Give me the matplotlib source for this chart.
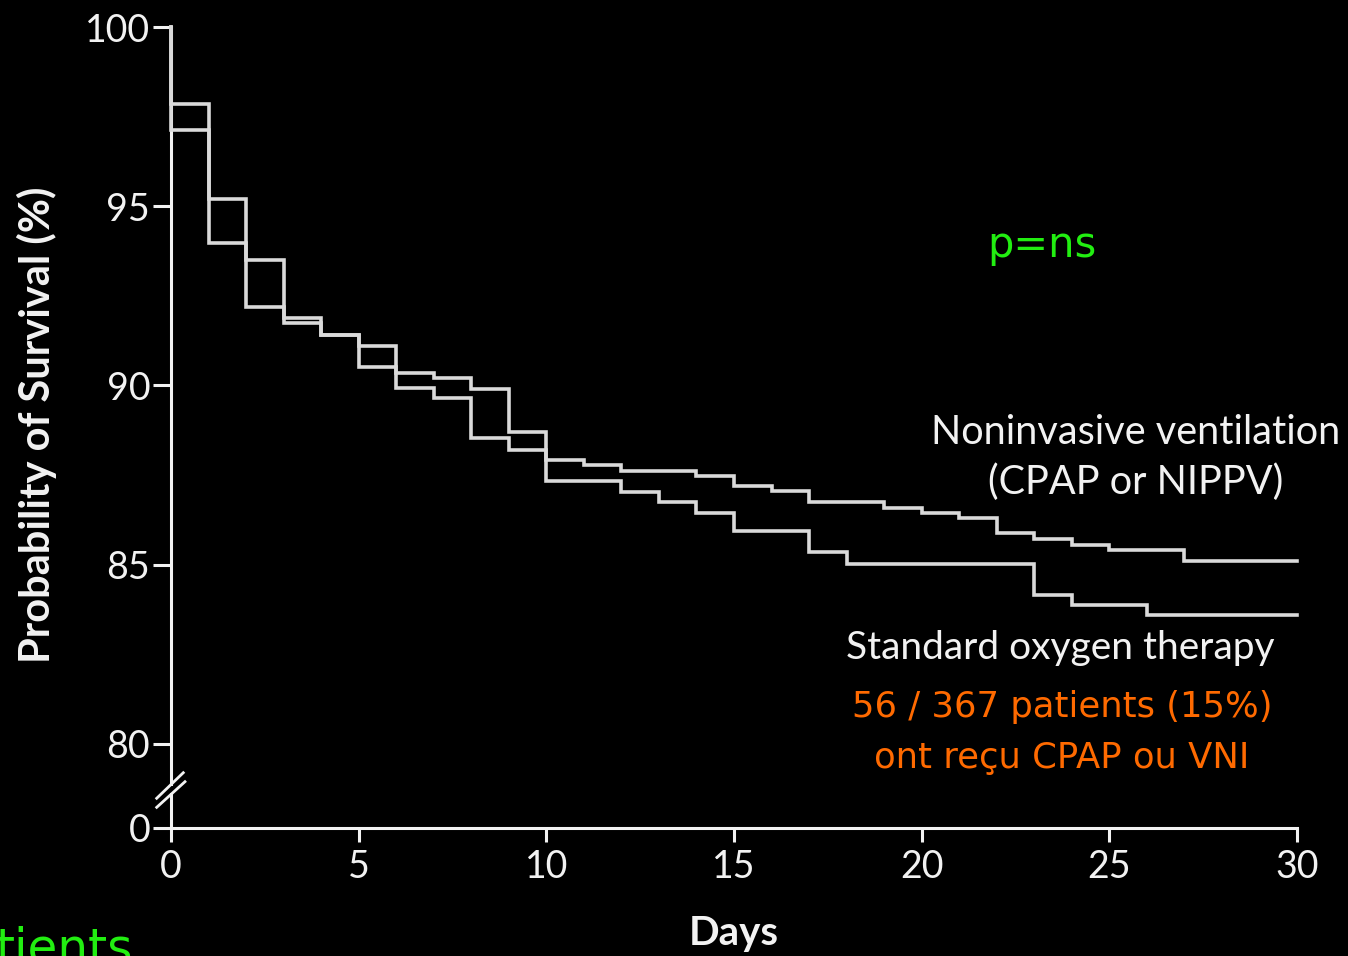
import numpy as np
import matplotlib
matplotlib.use("Agg")
import matplotlib.pyplot as plt

# Kaplan-Meier survival (%) per day; first entry is the value at day 0 before any event
days = list(range(0, 31))
niv_survival = [100, 97.85, 95.2, 93.5, 91.87, 91.4, 91.1, 90.35, 90.2, 89.89, 88.7,
                87.92, 87.78, 87.62, 87.62, 87.47, 87.19, 87.05, 86.75, 86.75, 86.59,
                86.44, 86.29, 85.87, 85.70, 85.54, 85.40, 85.40, 85.10, 85.10, 85.10, 85.10]
std_survival = [100, 97.13, 93.97, 92.2, 91.73, 91.4, 90.52, 89.92, 89.64, 88.52, 88.19,
                87.34, 87.34, 87.03, 86.75, 86.43, 85.93, 85.93, 85.36, 85.03, 85.03,
                85.03, 85.03, 85.03, 84.15, 83.87, 83.87, 83.59, 83.59, 83.59, 83.59, 83.59]

x_ticks = [0, 5, 10, 15, 20, 25, 30]
y_ticks = [0, 80, 85, 90, 95, 100]

BG = "black"
AXIS_COLOR = "#f2f2f2"
CURVE_COLOR = "#dadada"
GREEN = "#22ee11"
ORANGE = "#ff6a00"
MAIN_FONT = ["Lato", "DejaVu Sans"]
NOTE_FONT = ["DejaVu Sans"]

# broken y axis: 0..80 squeezed into a short stretch below 80
BREAK_SPAN = 2.35


def fwd(y):
    y = np.asarray(y, dtype=float)
    return np.where(y >= 80, y, 80 - BREAK_SPAN + y * BREAK_SPAN / 80)


def inv(v):
    v = np.asarray(v, dtype=float)
    return np.where(v >= 80, v, (v - (80 - BREAK_SPAN)) * 80 / BREAK_SPAN)


W, H = 1348, 956
fig = plt.figure(figsize=(W / 100, H / 100), dpi=100, facecolor=BG)
ax = fig.add_axes([171 / W, 1 - 828 / H, 1126 / W, 801 / H], facecolor=BG)
ax.set_yscale("function", functions=(fwd, inv))
ax.set_xlim(0, 30)
ax.set_ylim(0, 100)

t = np.r_[0, days]
for surv in (niv_survival, std_survival):
    ax.step(t, surv, where="post", color=CURVE_COLOR, lw=2.6,
            solid_joinstyle="miter", clip_on=False, zorder=3)

for side in ("top", "right"):
    ax.spines[side].set_visible(False)
for side in ("left", "bottom"):
    ax.spines[side].set_color(AXIS_COLOR)
    ax.spines[side].set_linewidth(2.2)

ax.set_xticks(x_ticks)
ax.set_yticks(y_ticks)
ax.set_yticklabels([str(v) for v in y_ticks])
ax.yaxis.set_minor_locator(matplotlib.ticker.NullLocator())
ax.tick_params(axis="x", direction="out", length=10, width=2.2, pad=5,
               colors=AXIS_COLOR, labelsize=27)
ax.tick_params(axis="y", direction="out", length=13, width=2.2, pad=2,
               colors=AXIS_COLOR, labelsize=27)
for lab in ax.get_xticklabels() + ax.get_yticklabels():
    lab.set_fontfamily(MAIN_FONT)

ax.set_xlabel("Days", fontsize=29, fontweight="bold", color=AXIS_COLOR,
              family=MAIN_FONT, labelpad=22)
fig.text(37 / W, 1 - 425 / H, "Probability of Survival (%)", rotation=90,
         ha="center", va="center", fontsize=30, fontweight="bold",
         color=AXIS_COLOR, family=MAIN_FONT)

# axis break marks
ax.plot([0, 0], [0.0435, 0.053], transform=ax.transAxes, color=BG, lw=4,
        clip_on=False, zorder=6, solid_capstyle="butt")
for y0, y1, x1 in ((0.0371, 0.069, 0.0109), (0.0258, 0.0578, 0.0124)):
    ax.plot([-0.0127, x1], [y0, y1], transform=ax.transAxes, color=AXIS_COLOR,
            lw=2, clip_on=False, zorder=7)

# curve labels
ax.text(1136 / W, 1 - 433 / H, "Noninvasive ventilation", transform=fig.transFigure,
        ha="center", va="center", fontsize=28.5, color=AXIS_COLOR, family=MAIN_FONT)
ax.text(1136 / W, 1 - 482 / H, "(CPAP or NIPPV)", transform=fig.transFigure,
        ha="center", va="center", fontsize=28.5, color=AXIS_COLOR, family=MAIN_FONT)
ax.text(1060 / W, 1 - 648 / H, "Standard oxygen therapy", transform=fig.transFigure,
        ha="center", va="center", fontsize=28, color=AXIS_COLOR, family=MAIN_FONT)

# annotations
fig.text(1042 / W, 1 - 245 / H, "p=ns", ha="center", va="center",
         fontsize=30, color=GREEN, family=NOTE_FONT)
fig.text(1062 / W, 1 - 707 / H, "56 / 367 patients (15%)", ha="center", va="center",
         fontsize=25.5, color=ORANGE, family=NOTE_FONT)
fig.text(1062 / W, 1 - 758 / H, "ont reçu CPAP ou VNI", ha="center", va="center",
         fontsize=25.5, color=ORANGE, family=NOTE_FONT)
fig.text(-4 / W, 1 - 964 / H, "tients", ha="left", va="baseline",
         fontsize=35, color=GREEN, family=NOTE_FONT)

fig.savefig("out.png", dpi=100, facecolor=BG)
